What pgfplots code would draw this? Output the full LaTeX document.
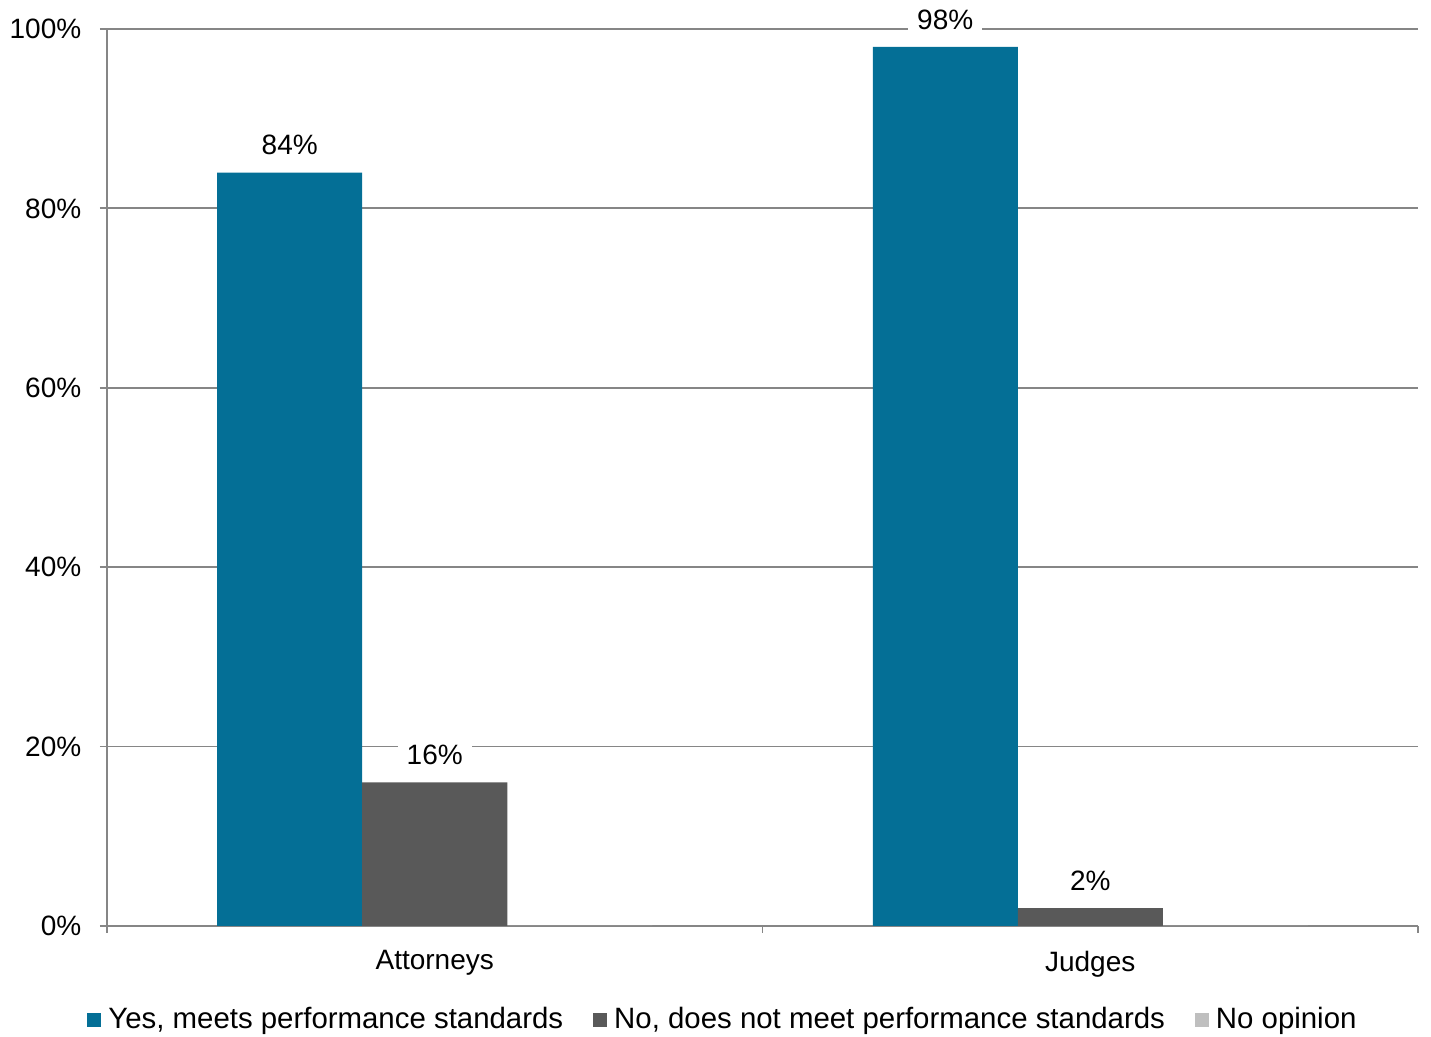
\documentclass[border=0pt]{standalone}
\usepackage{pgfplots}
\pgfplotsset{compat=1.18}
\usepackage{fontspec}
\setmainfont{Liberation Sans}
\definecolor{cblue}{HTML}{046F96}
\definecolor{cdark}{HTML}{595959}
\definecolor{clight}{HTML}{BFBFBF}
\definecolor{cgrid}{HTML}{868686}
\begin{document}
\fontsize{14}{17}\selectfont
\begin{tikzpicture}
\useasboundingbox (-53.5pt,-55.5pt) rectangle (662pt,463pt);
\begin{axis}[
  at={(0pt,0pt)}, anchor=south west,
  scale only axis, width=655.5pt, height=448.5pt,
  xmin=-0.5, xmax=1.5, ymin=0, ymax=100,
  clip=false,
  ybar=0pt, bar width=72.5pt,
  axis x line*=bottom, axis y line*=left,
  axis line style={cgrid, line width=0.9pt, -},
  ymajorgrids, grid style={cgrid, line width=0.9pt},
  tick align=outside, major tick length=3.5pt,
  tick style={cgrid, line width=0.9pt},
  xtick={-0.5,0.5,1.5}, xticklabels={},
  extra x ticks={0,1}, extra x tick labels={Attorneys,Judges},
  extra x tick style={major tick length=0pt, xticklabel style={yshift=-7.5pt}},
  ytick={0,20,40,60,80,100},
  yticklabel={\pgfmathprintnumber{\tick}\%},
  yticklabel style={xshift=-4.5pt},
  /pgf/number format/assume math mode=true,
  ticklabel style={font=\fontsize{14}{17}\selectfont, text=black},
  legend style={at={(0.4706,0)}, anchor=center, yshift=-47pt, draw=none, fill=none,
    font=\fontsize{14.7}{17}\selectfont, legend columns=-1,
    /tikz/every even column/.append style={column sep=13pt},
    inner sep=0pt},
  legend image code/.code={\fill[#1] (0pt,-3.5pt) rectangle (7pt,3.5pt); \path (8.5pt,0pt);},
  every node near coord/.append style={fill=white, inner xsep=4.5pt, inner ysep=2pt, anchor=south, yshift=6.5pt, text=black, font=\fontsize{14}{17}\selectfont},
  nodes near coords={\pgfmathprintnumber{\pgfplotspointmeta}\%},
]
\addplot[fill=cblue, draw=none] coordinates {(0,84) (1,98)};
\addlegendentry{Yes, meets performance standards}
\addplot[fill=cdark, draw=none] coordinates {(0,16) (1,2)};
\addlegendentry{No, does not meet performance standards}
\addplot[fill=clight, draw=none, nodes near coords=] coordinates {(0,0) (1,0)};
\addlegendentry{No opinion}
\end{axis}
\end{tikzpicture}
\end{document}
